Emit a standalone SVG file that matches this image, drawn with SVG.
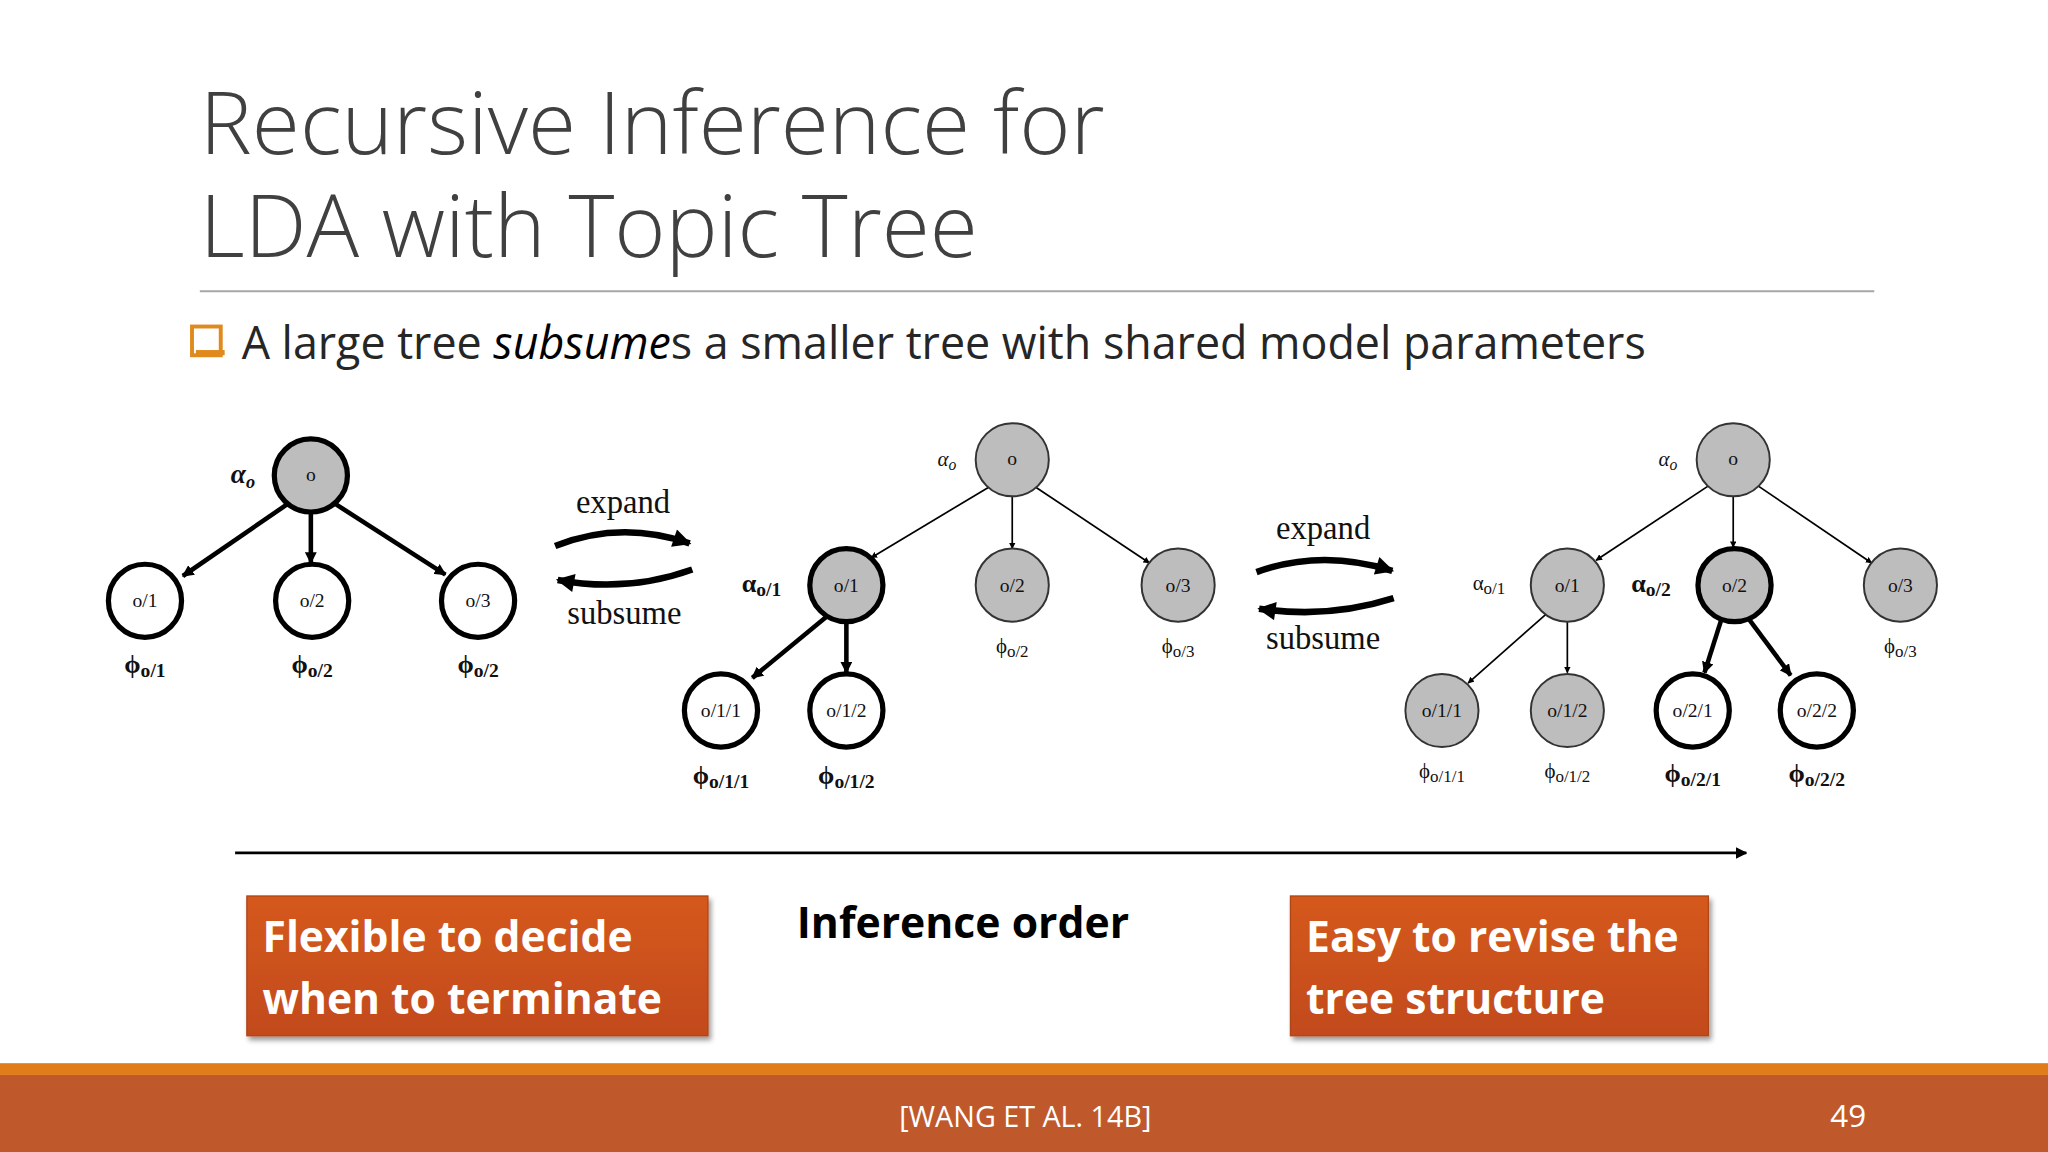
<svg xmlns="http://www.w3.org/2000/svg" width="2048" height="1152" viewBox="0 0 2048 1152">
<style>
.t{font-family:"Open Sans","Liberation Sans",sans-serif}
.m{font-family:"Liberation Serif",serif;fill:#111;text-anchor:middle}
.g{fill:#bdbdbd}
.w{fill:#fff}
.k{stroke:#000;stroke-width:4}
.n{stroke:#333;stroke-width:1.5}
.e{stroke:#000;fill:none}
.bx{font-family:"Open Sans","Liberation Sans",sans-serif;font-weight:700;fill:#fff;font-size:32.6px}
</style>
<defs>
<marker id="a" viewBox="0 0 10 10" refX="9" refY="5" markerWidth="5" markerHeight="5" orient="auto" markerUnits="userSpaceOnUse"><path d="M0,0L10,5L0,10z"/></marker>
<marker id="ab" viewBox="0 0 10 10" refX="9" refY="5" markerWidth="16" markerHeight="14" orient="auto" markerUnits="userSpaceOnUse"><path d="M0,0L10,5L0,10z"/></marker>
<marker id="at" viewBox="0 0 10 10" refX="9" refY="5" markerWidth="9" markerHeight="9" orient="auto" markerUnits="userSpaceOnUse"><path d="M0,0L10,5L0,10z"/></marker>
<linearGradient id="og" x1="0" y1="0" x2="0" y2="1"><stop offset="0" stop-color="#d5591f"/><stop offset="1" stop-color="#c24a1c"/></linearGradient>
<filter id="sh"><feDropShadow dx="2" dy="3" stdDeviation="2" flood-opacity="0.4"/></filter>
</defs>
<rect width="2048" height="1152" fill="#fff"/>
<g transform="scale(1.30612)">
<g id="title" class="t" fill="#404040" font-weight="300" font-size="67">
<text x="153" y="118">Recursive Inference for</text>
<text x="153" y="197">LDA with Topic Tree</text>
</g>
<line x1="153" y1="223" x2="1435" y2="223" stroke="#a6a6a6" stroke-width="1.5"/>
<g id="bullet">
<rect x="147" y="250" width="22" height="22" fill="none" stroke="#e08a1e" stroke-width="3"/>
<rect x="150" y="268" width="22" height="4" fill="#e08a1e"/>
<text x="185" y="275" class="t" font-size="34.3" fill="#262626">A large tree <tspan font-style="italic" fill="#000">subsume</tspan>s a smaller tree with shared model parameters</text>
</g>
<g id="connectors">
<line class="e" stroke-width="3.5" x1="220" y1="386" x2="140" y2="441" marker-end="url(#at)"/>
<line class="e" stroke-width="3.5" x1="238" y1="392" x2="238" y2="431" marker-end="url(#at)"/>
<line class="e" stroke-width="3.5" x1="257" y1="386" x2="341" y2="440" marker-end="url(#at)"/>
<path class="e" stroke-width="5" d="M425,418 Q475,398 528,416" marker-end="url(#ab)"/>
<path class="e" stroke-width="5" d="M530,436 Q480,454 427,444" marker-end="url(#ab)"/>
<line class="e" stroke-width="1.3" x1="757" y1="373" x2="667" y2="427" marker-end="url(#a)"/>
<line class="e" stroke-width="1.3" x1="775" y1="380" x2="775" y2="420" marker-end="url(#a)"/>
<line class="e" stroke-width="1.3" x1="793" y1="373" x2="880" y2="431" marker-end="url(#a)"/>
<line class="e" stroke-width="3.5" x1="633" y1="472" x2="576" y2="519" marker-end="url(#at)"/>
<line class="e" stroke-width="3.5" x1="648" y1="476" x2="648" y2="515" marker-end="url(#at)"/>
<path class="e" stroke-width="5" d="M962,438 Q1012,420 1066,437" marker-end="url(#ab)"/>
<path class="e" stroke-width="5" d="M1067,458 Q1017,474 964,466" marker-end="url(#ab)"/>
<line class="e" stroke-width="1.3" x1="1308" y1="372" x2="1222" y2="429" marker-end="url(#a)"/>
<line class="e" stroke-width="1.3" x1="1327" y1="380" x2="1327" y2="419" marker-end="url(#a)"/>
<line class="e" stroke-width="1.3" x1="1346" y1="372" x2="1433" y2="431" marker-end="url(#a)"/>
<line class="e" stroke-width="1.3" x1="1184" y1="470" x2="1124" y2="523" marker-end="url(#a)"/>
<line class="e" stroke-width="1.3" x1="1200" y1="476" x2="1200" y2="515" marker-end="url(#a)"/>
<line class="e" stroke-width="3.5" x1="1318" y1="474" x2="1305" y2="515" marker-end="url(#at)"/>
<line class="e" stroke-width="3.5" x1="1339" y1="474" x2="1371" y2="517" marker-end="url(#at)"/>
<line class="e" stroke-width="2" x1="180" y1="653" x2="1337" y2="653" marker-end="url(#at)"/>
</g>
<g id="arrowlabels" font-family="Liberation Serif,serif" font-size="25" text-anchor="middle" fill="#111">
<text x="477" y="393">expand</text><text x="478" y="478">subsume</text>
<text x="1013" y="413">expand</text><text x="1013" y="497">subsume</text>
</g>
<g id="tree1" font-size="15">
<g id="t1-o"><circle cx="238" cy="364" r="28" class="g k"/><text class="m" x="238" y="368">o</text><text class="m" x="186" y="370" font-size="21" font-weight="bold" font-style="italic">α<tspan font-size="14" dy="4">o</tspan></text></g>
<g id="t1-o1"><circle cx="111" cy="460" r="28" class="w k"/><text class="m" x="111" y="465">o/1</text><text class="m" x="111" y="515" font-size="20" font-weight="bold">ϕ<tspan font-size="15" dy="3">o/1</tspan></text></g>
<g id="t1-o2"><circle cx="239" cy="460" r="28" class="w k"/><text class="m" x="239" y="465">o/2</text><text class="m" x="239" y="515" font-size="20" font-weight="bold">ϕ<tspan font-size="15" dy="3">o/2</tspan></text></g>
<g id="t1-o3"><circle cx="366" cy="460" r="28" class="w k"/><text class="m" x="366" y="465">o/3</text><text class="m" x="366" y="515" font-size="20" font-weight="bold">ϕ<tspan font-size="15" dy="3">o/2</tspan></text></g>
</g>
<g id="tree2" font-size="15">
<g id="t2-o"><circle cx="775" cy="352" r="28" class="g n"/><text class="m" x="775" y="356">o</text><text class="m" x="725" y="357" font-size="16" font-style="italic">α<tspan font-size="12" dy="3">o</tspan></text></g>
<g id="t2-o1"><circle cx="648" cy="448" r="28" class="g k"/><text class="m" x="648" y="453">o/1</text><text class="m" x="583" y="453" font-size="20" font-weight="bold">α<tspan font-size="15" dy="3">o/1</tspan></text></g>
<g id="t2-o2"><circle cx="775" cy="448" r="28" class="g n"/><text class="m" x="775" y="453">o/2</text><text class="m" x="775" y="500" font-size="16">ϕ<tspan font-size="13" dy="3">o/2</tspan></text></g>
<g id="t2-o3"><circle cx="902" cy="448" r="28" class="g n"/><text class="m" x="902" y="453">o/3</text><text class="m" x="902" y="500" font-size="16">ϕ<tspan font-size="13" dy="3">o/3</tspan></text></g>
<g id="t2-o11"><circle cx="552" cy="544" r="28" class="w k"/><text class="m" x="552" y="549">o/1/1</text><text class="m" x="552" y="600" font-size="20" font-weight="bold">ϕ<tspan font-size="15" dy="3">o/1/1</tspan></text></g>
<g id="t2-o12"><circle cx="648" cy="544" r="28" class="w k"/><text class="m" x="648" y="549">o/1/2</text><text class="m" x="648" y="600" font-size="20" font-weight="bold">ϕ<tspan font-size="15" dy="3">o/1/2</tspan></text></g>
</g>
<g id="tree3" font-size="15">
<g id="t3-o"><circle cx="1327" cy="352" r="28" class="g n"/><text class="m" x="1327" y="356">o</text><text class="m" x="1277" y="357" font-size="16" font-style="italic">α<tspan font-size="12" dy="3">o</tspan></text></g>
<g id="t3-o1"><circle cx="1200" cy="448" r="28" class="g n"/><text class="m" x="1200" y="453">o/1</text><text class="m" x="1140" y="452" font-size="16">α<tspan font-size="13" dy="3">o/1</tspan></text></g>
<g id="t3-o2"><circle cx="1328" cy="448" r="28" class="g k"/><text class="m" x="1328" y="453">o/2</text><text class="m" x="1264" y="453" font-size="20" font-weight="bold">α<tspan font-size="15" dy="3">o/2</tspan></text></g>
<g id="t3-o3"><circle cx="1455" cy="448" r="28" class="g n"/><text class="m" x="1455" y="453">o/3</text><text class="m" x="1455" y="500" font-size="16">ϕ<tspan font-size="13" dy="3">o/3</tspan></text></g>
<g id="t3-o11"><circle cx="1104" cy="544" r="28" class="g n"/><text class="m" x="1104" y="549">o/1/1</text><text class="m" x="1104" y="596" font-size="16">ϕ<tspan font-size="13" dy="3">o/1/1</tspan></text></g>
<g id="t3-o12"><circle cx="1200" cy="544" r="28" class="g n"/><text class="m" x="1200" y="549">o/1/2</text><text class="m" x="1200" y="596" font-size="16">ϕ<tspan font-size="13" dy="3">o/1/2</tspan></text></g>
<g id="t3-o21"><circle cx="1296" cy="544" r="28" class="w k"/><text class="m" x="1296" y="549">o/2/1</text><text class="m" x="1296" y="599" font-size="20" font-weight="bold">ϕ<tspan font-size="15" dy="3">o/2/1</tspan></text></g>
<g id="t3-o22"><circle cx="1391" cy="544" r="28" class="w k"/><text class="m" x="1391" y="549">o/2/2</text><text class="m" x="1391" y="599" font-size="20" font-weight="bold">ϕ<tspan font-size="15" dy="3">o/2/2</tspan></text></g>
</g>
<text x="610" y="718" class="t" font-weight="700" font-size="32.7" fill="#000">Inference order</text>
<g id="box1"><rect x="189" y="686" width="353" height="107" fill="url(#og)" stroke="#b04418" filter="url(#sh)"/>
<text class="bx" x="201" y="729">Flexible to decide</text><text class="bx" x="201" y="776">when to terminate</text></g>
<g id="box2"><rect x="988" y="686" width="320" height="107" fill="url(#og)" stroke="#b04418" filter="url(#sh)"/>
<text class="bx" x="1000" y="729">Easy to revise the</text><text class="bx" x="1000" y="776">tree structure</text></g>
<rect x="0" y="814" width="1568" height="9" fill="#e07d1a"/>
<rect x="0" y="823" width="1568" height="59" fill="#bf592c"/>
<text x="785" y="863" class="t" font-size="22" fill="#fff" text-anchor="middle">[WANG ET AL. 14B]</text>
<text x="1415" y="863" class="t" font-size="24" fill="#fff" text-anchor="middle">49</text>
</g>
</svg>
